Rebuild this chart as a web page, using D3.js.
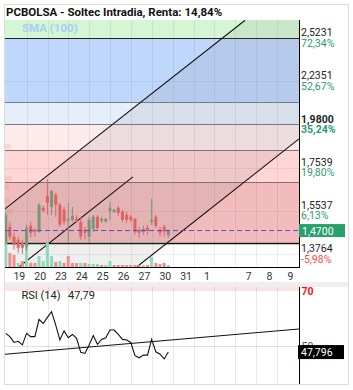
<!DOCTYPE html>
<html><head><meta charset="utf-8">
<script src="https://cdn.jsdelivr.net/npm/d3@7"></script>
<style>
body{margin:0;background:#fff;}
text{font-family:Roboto,"Noto Sans",sans-serif;}
</style>
</head><body>
<svg id="c" width="353" height="390"></svg>
<script>
// ---------- data ----------
const title = "PCBOLSA - Soltec Intradia, Renta: 14,84%";
const dayLabels = ["19","20","23","24","25","26","27","30","31","1","","7","8","9"];
const opens  = [1.420,1.486,1.445,1.433,1.420,1.405,1.490,1.473,1.465,1.567,1.620,1.571,1.625,1.580,1.558,1.511,1.515,1.519,1.507,1.473,1.445,1.477,1.528,1.511,1.507,1.554,1.549,1.567,1.549,1.536,1.528,1.519,1.473,1.465,1.481,1.507,1.528,1.473,1.486,1.453];
const highs  = [1.545,1.502,1.461,1.445,1.433,1.494,1.507,1.481,1.589,1.576,1.699,1.648,1.634,1.589,1.571,1.589,1.571,1.536,1.528,1.486,1.528,1.536,1.536,1.528,1.523,1.593,1.562,1.576,1.558,1.549,1.536,1.523,1.486,1.490,1.494,1.607,1.536,1.486,1.494,1.473];
const lows   = [1.413,1.433,1.393,1.381,1.377,1.390,1.441,1.445,1.461,1.545,1.536,1.536,1.528,1.486,1.494,1.420,1.507,1.502,1.433,1.433,1.420,1.465,1.473,1.502,1.502,1.515,1.545,1.532,1.507,1.502,1.507,1.453,1.441,1.453,1.453,1.494,1.481,1.445,1.445,1.441];
const closes = [1.536,1.445,1.413,1.401,1.401,1.481,1.461,1.465,1.580,1.554,1.589,1.643,1.580,1.494,1.507,1.519,1.532,1.507,1.445,1.461,1.515,1.528,1.481,1.519,1.519,1.567,1.558,1.545,1.515,1.515,1.515,1.465,1.461,1.477,1.469,1.515,1.490,1.461,1.465,1.470];
const volumes = [24,14,12,4,6,24,4,4,11,6,24,11,5,6,4,11,4,4,4,4,3,3,3,2,2,6,2,2,2,2,2,2,2,2,2,10,4,3,4,2];
const volSide = ["g","r","r","g","r","g","r","r","g","g","g","g","r","g","r","r","r","r","g","r","g","g","g","r","g","g","r","r","r","r","r","r","r","g","r","g","r","r","r","g"];
const rsi = [54.6,53.4,51.3,51.7,50.4,54.6,53.4,53.4,59.7,58.2,60.4,62.5,57.6,52.2,55.5,53.0,54.2,52.8,47.7,47.3,50.4,53.8,50.6,52.4,53.0,55.8,55.8,54.2,52.4,52.2,51.3,46.5,45.7,46.7,46.7,52.4,47.9,47.0,45.3,47.79];
const levelPrices = [2.5231,2.2351,1.9800,1.7539,1.5537,1.3764];
const levelText   = ["2,5231","2,2351","1,9800","1,7539","1,5537","1,3764"];
const levelPct    = ["72,34%","52,67%","35,24%","19,80%","6,13%","-5,98%"];
const bandPrices  = [2.5231,2.108,1.98,1.843,1.685,1.4205];
const bandColors  = ["#d4f6d4","#bfd7fb","#e4eef9","#fdeaea","#ffd5d5","#f3bcbc","#ffffff"];
const bandLineColors = ["#222","#6f7f96","#737a88","#8c6e6e","#8c6e6e","#111"];
const profilePrices = [1.86,1.70,1.66,1.60,1.55,1.50,1.46];
const profileSizes  = [6,7,4,5,8,6,4];
const channelUpper  = [[-0.17,1.562],[57.4,2.652]];
const channelMiddle = [[2.95,1.3244],[30.5,1.709]];
const channelLower  = [[31.5,1.328],[70.34,1.901]];
const rsiTrend = [[-0.17,46.98],[70.34,56.18]];
const lastPrice = 1.47, lastPriceText = "1,4700";
const rsiLast = 47.796, rsiLastText = "47,796", rsiHeader = "47,79";

// ---------- layout ----------
const L = 5, R = 299, T = 20, B = 267;
const RT = 287, RB = 384;
const svg = d3.select("#c");
const x = d3.scaleLinear().domain([0,70]).range([5.7, 5.7+4.17*70]);
const y = d3.scaleLog().domain([1.3764,2.5231]).range([254,38]);
const vy = d3.scaleLinear().domain([0,24]).range([B, B-24]);
const ry = d3.scaleLinear().domain([50,70]).range([346,291]);

svg.append("rect").attr("width",353).attr("height",390).attr("fill","#fff");
// frame
svg.append("rect").attr("x",4.5).attr("y",4.5).attr("width",344).attr("height",380)
  .attr("fill","none").attr("stroke","#dcdcdc");
svg.append("rect").attr("x",L).attr("y",282).attr("width",343).attr("height",RT-282).attr("fill","#eeeeee");

const defs = svg.append("defs");
defs.append("clipPath").attr("id","plot").append("rect").attr("x",L).attr("y",T).attr("width",R-L).attr("height",B-T);
defs.append("clipPath").attr("id","rplot").append("rect").attr("x",L).attr("y",RT).attr("width",R-L).attr("height",RB-RT);

const g = svg.append("g").attr("clip-path","url(#plot)");
// bands
const edges = [T, ...bandPrices.map(p=>y(p)), B];
bandColors.forEach((c,i)=>{
  g.append("rect").attr("x",L).attr("y",edges[i]).attr("width",R-L).attr("height",edges[i+1]-edges[i]).attr("fill",c);
});
// volume profile
profilePrices.forEach((p,i)=>{
  g.append("rect").attr("x",L).attr("y",y(p)-2.5).attr("width",profileSizes[i]).attr("height",5)
   .attr("fill","rgba(190,110,110,0.13)");
});
// grid
const gridSlots = d3.range(13).map(k=>5*k+5.04);
g.selectAll(".vg").data(gridSlots).enter().append("line")
  .attr("x1",d=>Math.round(x(d))+0.5).attr("x2",d=>Math.round(x(d))+0.5).attr("y1",T).attr("y2",B)
  .attr("stroke","rgba(90,100,120,0.12)");
[2.2351,1.7539,1.5537,1.3764].forEach(p=>{
  g.append("line").attr("x1",L).attr("x2",R).attr("y1",Math.round(y(p))+0.5).attr("y2",Math.round(y(p))+0.5)
   .attr("stroke","rgba(90,100,120,0.10)");
});
// band lines
bandPrices.forEach((p,i)=>{
  g.append("line").attr("x1",L).attr("x2",R).attr("y1",Math.round(y(p))+0.5).attr("y2",Math.round(y(p))+0.5)
   .attr("stroke",bandLineColors[i]).attr("stroke-width",i===5?1.3:1);
});
// channel shading
const P = d=>[x(d[0]), y(d[1])];
const u0=P(channelUpper[0]), u1=P(channelUpper[1]), l0=P(channelLower[0]), l1=P(channelLower[1]);
const poly = [u0,u1,[R+2,T-2],l1,l0,[L-2,B+2]];
g.append("path").attr("d", d3.line()(poly)+"Z").attr("fill","rgba(110,110,120,0.11)");
[channelUpper,channelMiddle,channelLower].forEach(c=>{
  g.append("line").attr("x1",P(c[0])[0]).attr("y1",P(c[0])[1]).attr("x2",P(c[1])[0]).attr("y2",P(c[1])[1])
   .attr("stroke","#111").attr("stroke-width",1.1);
});
// volume
volumes.forEach((v,i)=>{
  g.append("rect").attr("x",x(i)-1.5).attr("y",vy(v)).attr("width",3).attr("height",B-vy(v))
   .attr("fill",volSide[i]==="g"?"#8edbb3":"#f28c8c");
});
// candles
const up="#7b957b", dn="#e06262";
opens.forEach((o,i)=>{
  const c=closes[i], col=c>=o?up:dn;
  g.append("line").attr("x1",x(i)).attr("x2",x(i)).attr("y1",y(highs[i])).attr("y2",y(lows[i])).attr("stroke",col).attr("stroke-width",1);
  const top=Math.min(y(o),y(c)), h=Math.max(1.5,Math.abs(y(o)-y(c)));
  g.append("rect").attr("x",x(i)-1.5).attr("y",top).attr("width",3).attr("height",h).attr("fill",col);
});
// last price dashed
g.append("line").attr("x1",L).attr("x2",R).attr("y1",y(lastPrice)).attr("y2",y(lastPrice))
  .attr("stroke","#6a3ee0").attr("stroke-dasharray","5,3").attr("stroke-width",1);

// axes lines
svg.append("line").attr("x1",L).attr("x2",R).attr("y1",B+0.5).attr("y2",B+0.5).attr("stroke","#000");
svg.append("line").attr("x1",R+0.5).attr("x2",R+0.5).attr("y1",T).attr("y2",B+1).attr("stroke","#000");

// right labels
levelPrices.forEach((p,i)=>{
  const yy=y(p);
  svg.append("text").attr("x",301).attr("y",yy-1.7).text(levelText[i])
    .attr("font-size","10.5px").attr("fill","#222").attr("font-weight",i===2?"bold":"normal");
  svg.append("text").attr("x",301).attr("y",yy+8.5).text(levelPct[i])
    .attr("font-size","10.5px").attr("fill",levelPct[i].startsWith("-")?"#ff4c4c":"#2b9c6c").attr("font-weight",i===2?"bold":"normal");
});
svg.append("rect").attr("x",R).attr("y",y(lastPrice)-6.5).attr("width",46).attr("height",13).attr("fill","#27a06c");
svg.append("text").attr("x",302).attr("y",y(lastPrice)+4).text(lastPriceText).attr("font-size","10.5px").attr("fill","#fff");

// x tick labels
dayLabels.forEach((d,k)=>{
  svg.append("text").attr("x",x(5*k+3.27)).attr("y",279.5).attr("text-anchor","middle")
    .attr("font-size","10.5px").attr("fill","#333").text(d);
});

// title
svg.append("text").attr("x",6).attr("y",16).text(title).attr("font-size","11.5px").attr("font-weight","bold").attr("fill","#111");
svg.append("text").attr("x",22).attr("y",31.5).text("SMA (100)").attr("font-size","11.5px").attr("font-weight","bold").attr("fill","#a9cdf2");

// ---------- RSI panel ----------
const rg = svg.append("g").attr("clip-path","url(#rplot)");
rg.append("rect").attr("x",L).attr("y",RT).attr("width",R-L).attr("height",ry(70)-RT).attr("fill","#fde3e3");
rg.selectAll(".rvg").data(gridSlots).enter().append("line")
  .attr("x1",d=>Math.round(x(d))+0.5).attr("x2",d=>Math.round(x(d))+0.5).attr("y1",RT).attr("y2",RB)
  .attr("stroke","rgba(0,0,0,0.09)");
rg.append("line").attr("x1",L).attr("x2",R).attr("y1",Math.round(ry(50))+0.5).attr("y2",Math.round(ry(50))+0.5).attr("stroke","rgba(0,0,0,0.12)");
rg.append("path").datum(rsi).attr("fill","none").attr("stroke","#111").attr("stroke-width",1.1)
  .attr("d",d3.line().x((d,i)=>x(i)).y(d=>ry(d)));
rg.append("line").attr("x1",x(rsiTrend[0][0])).attr("y1",ry(rsiTrend[0][1])).attr("x2",x(rsiTrend[1][0])).attr("y2",ry(rsiTrend[1][1]))
  .attr("stroke","#111").attr("stroke-width",1.1);
svg.append("line").attr("x1",R+0.5).attr("x2",R+0.5).attr("y1",RT).attr("y2",RB).attr("stroke","#000");
svg.append("text").attr("x",301.5).attr("y",ry(70)+4).text("70").attr("font-size","10.5px").attr("font-weight","bold").attr("fill","#ff1010");
svg.append("text").attr("x",301.5).attr("y",ry(50)+3.5).text("50").attr("font-size","10.5px").attr("fill","#555");
svg.append("rect").attr("x",298).attr("y",ry(rsiLast)-7).attr("width",46).attr("height",14).attr("fill","#000");
svg.append("text").attr("x",301).attr("y",ry(rsiLast)+4).text(rsiLastText).attr("font-size","10.5px").attr("fill","#fff");
svg.append("text").attr("x",21.5).attr("y",299).text("RSI (14)").attr("font-size","11px").attr("fill","#222");
svg.append("text").attr("x",68).attr("y",299).text(rsiHeader).attr("font-size","11px").attr("fill","#222");
</script>
</body></html>
